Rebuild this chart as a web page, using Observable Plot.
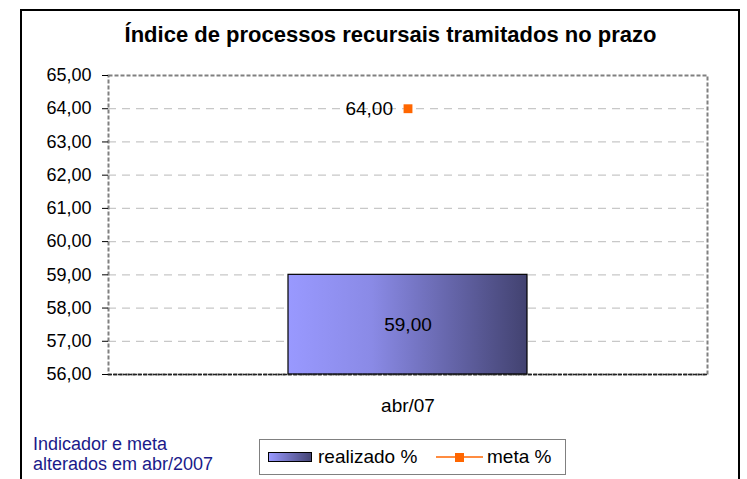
<!DOCTYPE html>
<html>
<head>
<meta charset="utf-8">
<script src="https://cdn.jsdelivr.net/npm/d3@7"></script>
<script src="https://cdn.jsdelivr.net/npm/@observablehq/plot@0.6"></script>
<style>
  body { margin: 0; background: #fff; font-family: "Liberation Sans", Arial, sans-serif; }
  #wrap { position: relative; width: 747px; height: 479px; overflow: hidden; background: #fff; }
  #chart { position: absolute; left: 0; top: 0; }
  #border { position: absolute; left: 20px; top: 9px; width: 720px; height: 490px; border: 2px solid #000; box-sizing: border-box; pointer-events: none; }
  #title { position: absolute; left: 0; top: 23px; width: 781px; text-align: center; font-weight: bold; font-size: 22px; line-height: 24px; color: #000; white-space: nowrap; }
  #note { position: absolute; left: 33px; top: 434px; font-size: 18px; line-height: 20px; color: #1a1a8a; white-space: nowrap; }
  #legend { position: absolute; left: 259px; top: 439px; width: 307px; height: 36px; border: 1px solid #808080; box-sizing: border-box; background: #fff; }
  #legend .sw { position: absolute; left: 8px; top: 12px; width: 44px; height: 10px; border: 1.5px solid #000; box-sizing: border-box; background: linear-gradient(to right, #9999ff, #454575); }
  #legend .t1 { position: absolute; left: 58px; top: 6px; font-size: 19px; line-height: 22px; white-space: nowrap; }
  #legend svg { position: absolute; left: 175px; top: 9px; }
  #legend .t2 { position: absolute; left: 227px; top: 6px; font-size: 19px; line-height: 22px; white-space: nowrap; }
</style>
</head>
<body>
<div id="wrap">
  <div id="chart"></div>
  <div id="title">Índice de processos recursais tramitados no prazo</div>
  <div id="note">Indicador e meta<br>alterados em abr/2007</div>
  <div id="legend">
    <div class="sw"></div>
    <div class="t1">realizado %</div>
    <svg width="50" height="16"><line x1="1" y1="8" x2="48" y2="8" stroke="#ff6600" stroke-width="1.5"/><rect x="20" y="4" width="9" height="9" fill="#ff6600"/></svg>
    <div class="t2">meta %</div>
  </div>
  <div id="border"></div>
</div>
<script>
// ---- data ----
const categories = ["abr/07"];
const realizado = [59.00];
const meta = [64.00];
const yTicks = [56, 57, 58, 59, 60, 61, 62, 63, 64, 65];
const seriesNames = ["realizado %", "meta %"];

const yMin = yTicks[0], yMax = yTicks[yTicks.length - 1];
const fmt = v => d3.format(".2f")(v).replace(".", ",");

const rows = categories.map((c, i) => ({cat: c, realizado: realizado[i], meta: meta[i]}));

const plot = Plot.plot({
  width: 747,
  height: 479,
  marginLeft: 108,
  marginRight: 40,
  marginTop: 75,
  marginBottom: 105,
  style: {fontFamily: "'Liberation Sans', Arial, sans-serif", fontSize: "18px", color: "#000", background: "transparent", overflow: "visible"},
  x: {domain: categories, paddingInner: 0, paddingOuter: 0.75, label: null},
  y: {domain: [yMin, yMax], label: null},
  marks: [
    Plot.ruleY(yTicks.slice(1, -1), {stroke: "#c8c8c8", strokeDasharray: "8,6", strokeWidth: 1.2}),
    Plot.frame({stroke: "#808080", strokeDasharray: "4,2", strokeWidth: 2}),
    Plot.barY(rows, {x: "cat", y1: () => yMin, y2: "realizado", fill: "url(#barGrad)", stroke: "#000", strokeWidth: 1.2}),
    Plot.ruleY([yMin], {stroke: "#222", strokeDasharray: "4,1", strokeWidth: 1.5}),
    Plot.text(rows, {x: "cat", y: d => (yMin + d.realizado) / 2, text: d => fmt(d.realizado), fill: "#000", fontSize: 19}),
    Plot.dot(rows, {x: "cat", y: "meta", symbol: "square", r: 5, fill: "#ff6600", stroke: "none"}),
    Plot.text(rows, {x: "cat", y: "meta", text: d => fmt(d.meta), textAnchor: "end", dx: -15, fill: "#000", fontSize: 19}),
    Plot.axisY({ticks: yTicks, tickFormat: fmt, tickSize: 6, tickPadding: 11, fontSize: 18, stroke: "#000"}),
    Plot.axisX({tickSize: 0, tickPadding: 24, fontSize: 19})
  ]
});

const defs = d3.select(plot).insert("defs", ":first-child");
const grad = defs.append("linearGradient").attr("id", "barGrad").attr("x1", 0).attr("x2", 1).attr("y1", 0).attr("y2", 0);
grad.append("stop").attr("offset", "0%").attr("stop-color", "#9999ff");
grad.append("stop").attr("offset", "35%").attr("stop-color", "#8a8ae6");
grad.append("stop").attr("offset", "100%").attr("stop-color", "#424270");

document.getElementById("chart").appendChild(plot);
</script>
</body>
</html>
